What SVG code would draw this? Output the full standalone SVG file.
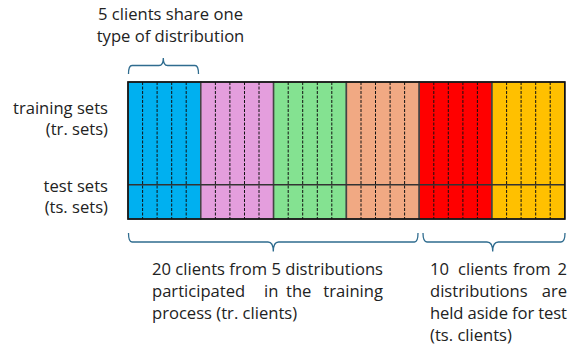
<svg xmlns="http://www.w3.org/2000/svg" width="585" height="348" viewBox="0 0 585 348">
<style>
text{font-family:"Open Sans","Liberation Sans",Arial,sans-serif;font-size:16.6px;fill:#222}
.r{text-anchor:end}
.blk{stroke:#444;stroke-width:1.5}
.dash{stroke:#111;stroke-width:1;stroke-dasharray:3,1.5}
.brace{fill:none;stroke:#2F6C8F;stroke-width:1.3}
</style>
<rect width="585" height="348" fill="#fff"/>
<g id="labels">
<text x="170.5" y="20" text-anchor="middle">5 clients share one</text>
<text x="170.5" y="42" text-anchor="middle">type of distribution</text>
<text class="r" x="108" y="114">training sets</text>
<text class="r" x="108" y="135">(tr. sets)</text>
<text class="r" x="108" y="192">test sets</text>
<text class="r" x="108" y="213">(ts. sets)</text>
</g>
<g id="blocks">
<g id="dist1"><rect class="blk" x="128" y="82" width="72.8" height="137" fill="#00B0F0"/></g>
<g id="dist2"><rect class="blk" x="200.8" y="82" width="72.8" height="137" fill="#E49EDD"/></g>
<g id="dist3"><rect class="blk" x="273.6" y="82" width="72.8" height="137" fill="#84E291"/></g>
<g id="dist4"><rect class="blk" x="346.4" y="82" width="72.8" height="137" fill="#F1A983"/></g>
<g id="dist5"><rect class="blk" x="419.2" y="82" width="72.8" height="137" fill="#FF0000"/></g>
<g id="dist6"><rect class="blk" x="492" y="82" width="72.8" height="137" fill="#FFC000"/></g>
<g id="dashes">
<path class="dash" d="M142.6 82V219M157.1 82V219M171.7 82V219M186.2 82V219M215.4 82V219M229.9 82V219M244.5 82V219M259 82V219M288.2 82V219M302.7 82V219M317.3 82V219M331.8 82V219M361 82V219M375.5 82V219M390.1 82V219M404.6 82V219M433.8 82V219M448.3 82V219M462.9 82V219M477.4 82V219M506.6 82V219M521.1 82V219M535.7 82V219M550.2 82V219"/>
</g>
<line x1="128" y1="184.7" x2="564.8" y2="184.7" stroke="#333" stroke-width="1.6"/>
<rect x="128" y="82" width="436.8" height="137" fill="none" stroke="#111" stroke-width="1.5"/>
</g>
<g id="connectors">
<path class="brace" d="M128.5 74Q128.5 65.5 132 65.5H159Q163.3 65.5 163.3 58Q163.3 65.5 167.6 65.5H195Q198.5 65.5 198.5 74"/>
<path class="brace" d="M128.5 233Q128.5 242 132 242H268Q273.3 242 273.3 251.5Q273.3 242 278.6 242H414.5Q418 242 418 233"/>
<path class="brace" d="M423 233Q423 242 427 242H487Q492.7 242 492.7 251.5Q492.7 242 498.4 242H561Q565 242 565 233"/>
</g>
<g id="bottom-text">
<text x="152" y="275" textLength="231" lengthAdjust="spacing">20 clients from 5 distributions</text>
<text x="152" y="297">participated</text>
<text x="264" y="297">in</text>
<text x="286" y="297">the</text>
<text x="383" y="297" class="r">training</text>
<text x="152" y="319">process (tr. clients)</text>
<text x="430" y="275">10</text>
<text x="458" y="275">clients</text>
<text x="513" y="275">from</text>
<text x="567" y="275" class="r">2</text>
<text x="430" y="297">distributions</text>
<text x="567" y="297" class="r">are</text>
<text x="430" y="319" textLength="137" lengthAdjust="spacing">held aside for test</text>
<text x="430" y="341">(ts. clients)</text>
</g>
</svg>
